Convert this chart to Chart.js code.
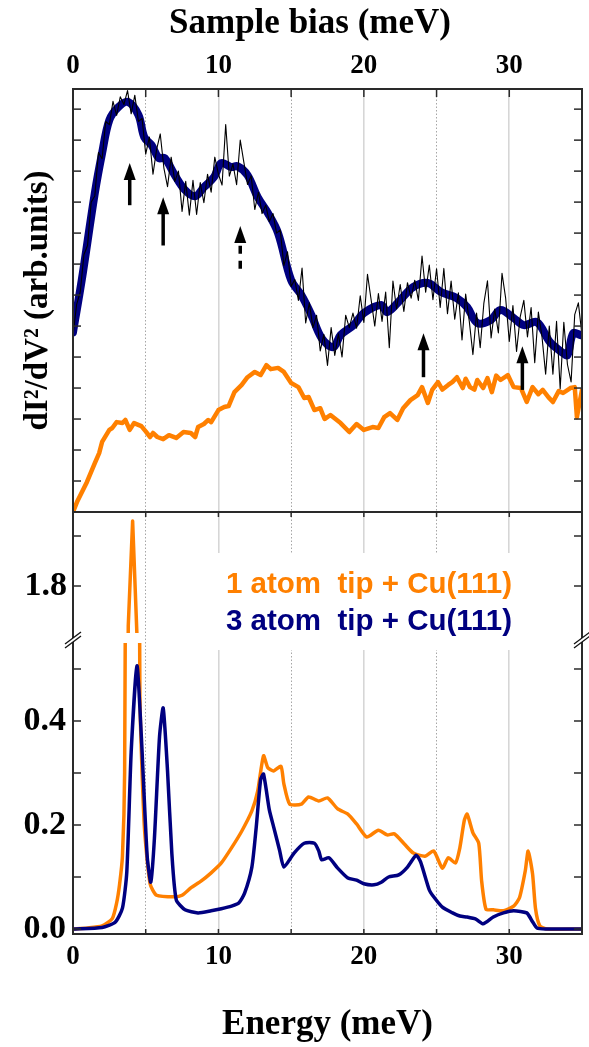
<!DOCTYPE html>
<html>
<head>
<meta charset="utf-8">
<script src="https://cdn.jsdelivr.net/npm/chart.js@4.4.1/dist/chart.umd.min.js"></script>
<style>
  html, body { margin:0; padding:0; background:#fff; }
  #wrap { width:589px; height:1047px; }
  canvas { display:block; }
</style>
</head>
<body>
<div id="wrap"><canvas id="c" width="589" height="1047" style="width:589px;height:1047px"></canvas></div>
<script>
// ================= DATOS ==================
// panel superior: d2I/dV2 (unidades arbitrarias) vs sample bias (meV)
const RAW_STEP = 0.25;   // meV entre muestras de la traza fina
const RAW_D2I = [
  5.7, 6.7, 7.1, 8.3, 8.6, 10.0, 10.2, 11.6, 11.4, 12.6,
  12.5, 13.25, 12.8, 13.4, 13.15, 13.6, 12.85, 13.45, 12.6, 12.7,
  11.55, 12.1, 10.9, 11.7, 12.2, 11.1, 10.5, 11.45, 10.67, 11.0,
  9.7, 10.67, 9.58, 10.7, 9.6, 10.63, 9.98, 10.9, 10.32, 11.45,
  10.9, 10.55, 12.5, 10.84, 11.23, 10.56, 12.0, 11.28, 10.57, 10.85,
  9.76, 10.32, 9.63, 9.9, 9.37, 9.63, 9.0, 9.1, 7.95, 8.4,
  7.28, 7.5, 6.83, 7.87, 6.1, 6.75, 5.95, 6.35, 5.2, 5.73,
  4.73, 5.95, 5.05, 5.75, 5.0, 6.35, 5.95, 6.42, 5.93, 6.98,
  6.12, 7.67, 6.85, 6.0, 7.05, 6.15, 7.1, 5.3, 7.45, 6.55,
  7.34, 6.47, 7.4, 6.9, 7.48, 6.83, 8.26, 7.09, 7.97, 6.85,
  7.85, 6.6, 7.86, 6.4, 7.45, 6.22, 7.07, 5.55, 7.03, 6.15,
  5.08, 6.42, 5.3, 6.73, 7.46, 5.62, 6.55, 5.78, 7.7, 6.9,
  5.5, 6.66, 5.18, 6.3, 6.83, 5.65, 6.6, 4.82, 6.45, 5.65,
  4.45, 6.0, 4.45, 6.15, 3.98, 6.12, 4.76, 4.2, 6.37, 6.75,
  5.7
];
const SMOOTH_E = [0, 0.6, 1.5, 2.0, 2.5, 3.1, 3.8, 4.5, 4.9, 5.4, 5.9, 6.3, 7.0, 7.7, 8.4, 9.0, 9.7, 10.2, 10.9, 11.3,
  12.0, 12.7, 13.4, 14.1, 15.0, 15.7, 16.4, 17.1, 17.9, 18.4, 19.3, 20.0, 21.2, 21.6, 22.5, 23.4, 24.4, 25.3, 26.4, 27.1,
  27.8, 28.7, 29.4, 30.3, 31.0, 31.9, 32.8, 33.7, 34.0, 34.4, 34.9];
const SMOOTH_D2I = [5.8, 7.48, 10.29, 11.58, 12.65, 13.06, 13.23, 12.81, 12.1, 11.84, 11.42, 11.42, 10.87, 10.39, 10.19, 10.48, 10.81, 11.26, 11.13, 11.16,
  10.87, 10.16, 9.65, 9.0, 7.48, 7.0, 6.35, 5.61, 5.32, 5.71, 6.03, 6.42, 6.68, 6.45, 6.84, 7.26, 7.39, 7.10, 6.90, 6.61,
  6.10, 6.19, 6.52, 6.26, 6.03, 6.13, 5.48, 5.13, 5.06, 5.77, 5.71];
const TIP1_E = [0, 0.3, 0.96, 1.5, 1.8, 2.0, 2.5, 2.7, 3.0, 3.4, 3.6, 3.9, 4.2, 4.7, 5.0, 5.3, 5.5, 5.8, 6.2, 6.6,
  7.1, 7.6, 8.1, 8.4, 8.6, 9.0, 9.3, 9.5, 10.0, 10.4, 10.7, 11.1, 11.6, 12.0, 12.5, 12.9, 13.3, 13.6, 14.1, 14.5,
  15.0, 15.5, 15.9, 16.2, 16.6, 17.0, 17.3, 17.7, 18.4, 19.0, 19.5, 20.0, 20.6, 21.0, 21.4, 21.8, 22.3, 22.7, 23.2, 23.7,
  24.0, 24.4, 24.7, 25.1, 25.4, 25.8, 26.1, 26.4, 26.8, 27.0, 27.3, 27.6, 27.8, 28.2, 28.5, 28.8, 29.1, 29.4, 29.9, 30.3,
  30.8, 31.2, 31.6, 32.0, 32.3, 32.7, 33.0, 33.4, 33.7, 34.2, 34.5, 34.65, 34.8, 35.0];
const TIP1_D2I = [0, 0.35, 0.97, 1.58, 1.9, 2.26, 2.65, 2.71, 2.9, 2.87, 2.97, 2.65, 2.87, 2.77, 2.6, 2.42, 2.55, 2.42, 2.35, 2.48,
  2.39, 2.58, 2.55, 2.42, 2.74, 2.84, 2.97, 2.9, 3.29, 3.39, 3.42, 3.87, 4.1, 4.35, 4.52, 4.42, 4.74, 4.61, 4.65, 4.52,
  4.16, 4.03, 3.68, 3.71, 3.29, 3.35, 3.0, 3.13, 2.87, 2.58, 2.84, 2.65, 2.74, 2.71, 3.06, 3.19, 2.97, 3.35, 3.61, 3.77,
  4.03, 3.52, 3.94, 4.19, 3.95, 4.1, 4.2, 4.35, 4.0, 4.3, 4.03, 3.95, 4.26, 4.0, 4.32, 3.87, 4.4, 4.26, 4.42, 4.03,
  4.0, 3.55, 4.03, 3.8, 3.94, 3.7, 3.55, 3.9, 3.84, 4.0, 4.03, 3.06, 3.45, 3.94];

// flechas (posición en meV, desde/hasta en unidades del eje d2I/dV2)
const ARROW_E      = [3.9, 6.2, 11.5, 24.1, 30.9];
const ARROW_FROM   = [9.9, 8.6, 7.85, 4.35, 3.94];
const ARROW_TO     = [11.26, 10.16, 9.23, 5.77, 5.35];
const ARROW_DASHED = [false, false, true, false, false];

// panel inferior: energía (meV)
const DOS1_E = [0, 1.0, 2.0, 2.7, 3.0, 3.2, 3.4, 3.55, 3.8, 4.1, 4.4, 4.6, 4.9, 5.3, 5.75, 7.0, 7.5, 8.1, 8.8, 9.5,
  10.2, 10.9, 11.6, 12.3, 12.7, 13.1, 13.4, 13.8, 14.3, 14.5, 14.9, 15.7, 16.2, 16.9, 17.5, 18.2, 18.9, 19.5, 20.2, 21.0,
  21.6, 22.1, 22.8, 23.4, 24.2, 24.8, 25.4, 25.8, 26.3, 26.6, 26.9, 27.1, 27.5, 27.9, 28.1, 28.4, 28.9, 29.6, 30.3, 30.7,
  31.1, 31.3, 31.6, 31.8, 32.1, 32.6, 35.0];
const DOS1 = [0, 0.002, 0.006, 0.02, 0.05, 0.085, 0.14, 0.3, 1.72, 1.93, 1.7, 0.45, 0.2, 0.087, 0.065, 0.062, 0.065, 0.079, 0.092, 0.108,
  0.127, 0.156, 0.188, 0.227, 0.265, 0.333, 0.31, 0.304, 0.313, 0.279, 0.24, 0.24, 0.254, 0.246, 0.252, 0.231, 0.221, 0.202, 0.177, 0.19,
  0.181, 0.183, 0.163, 0.146, 0.14, 0.15, 0.117, 0.137, 0.127, 0.156, 0.208, 0.221, 0.185, 0.165, 0.092, 0.038, 0.037, 0.035, 0.044, 0.06,
  0.112, 0.15, 0.106, 0.04, 0.006, 0, 0];
const DOS3_E = [0, 2.0, 2.9, 3.4, 3.7, 4.0, 4.4, 4.7, 5.1, 5.35, 5.6, 5.95, 6.2, 6.5, 6.8, 7.1, 7.7, 8.6, 9.5, 10.2,
  10.9, 11.4, 11.8, 12.3, 12.6, 12.9, 13.1, 13.5, 13.8, 14.2, 14.5, 15.2, 15.9, 16.6, 16.9, 17.1, 17.6, 18.2, 18.9, 19.5,
  20.0, 20.7, 21.2, 21.7, 22.4, 23.0, 23.6, 23.9, 24.5, 24.8, 25.4, 26.1, 26.6, 27.1, 27.7, 28.2, 28.9, 29.6, 30.3, 31.2,
  31.6, 31.9, 32.5, 35.0];
const DOS3 = [0, 0.003, 0.013, 0.04, 0.11, 0.34, 0.506, 0.37, 0.14, 0.09, 0.175, 0.37, 0.425, 0.304, 0.144, 0.056, 0.037, 0.031, 0.035, 0.039,
  0.044, 0.05, 0.069, 0.119, 0.196, 0.287, 0.298, 0.229, 0.196, 0.152, 0.119, 0.146, 0.165, 0.165, 0.15, 0.133, 0.137, 0.117, 0.098, 0.094,
  0.087, 0.085, 0.09, 0.1, 0.104, 0.119, 0.142, 0.129, 0.075, 0.062, 0.042, 0.031, 0.025, 0.023, 0.019, 0.01, 0.023, 0.031, 0.035, 0.031,
  0.014, 0.002, 0, 0];

// ticks
const D2I_TICKS   = [1, 2, 3, 4, 5, 6, 7, 8, 9, 10, 11, 12, 13];
const BREAK_TICKS = [1.8, 1.9];
const BREAK_LABELS = [1.8];
const DOS_TICKS   = [0, 0.1, 0.2, 0.3, 0.4, 0.5];
const DOS_LABELS  = [0, 0.2, 0.4];
const LEGEND_TEXT = ['1 atom  tip + Cu(111)', '3 atom  tip + Cu(111)'];

// ================= ESTILO ==================
const ORANGE = '#ff8000';
const NAVY = '#000080';
const SERIF = '"Liberation Serif", "Times New Roman", serif';
const SANS = '"Liberation Sans", Arial, sans-serif';
const FRAME = '#2a2a2a';

// =============== UTIL ===============
const pts = (xs, ys) => xs.map((x, i) => ({ x, y: ys[i] }));
const near = (v, list) => list.some(t => Math.abs(t - v) < 1e-6);
function seg(ctx, x0, y0, x1, y1){
  ctx.beginPath(); ctx.moveTo(x0, y0); ctx.lineTo(x1, y1); ctx.stroke();
}

// ============= PLUGIN: marco, ticks, cortes, flechas, leyenda =============
const panelDecor = {
  id: 'panelDecor',
  beforeDatasetsDraw(chart){
    // caja blanca detrás de la leyenda (tapa la rejilla)
    const ctx = chart.ctx;
    ctx.save();
    ctx.fillStyle = '#fff';
    ctx.fillRect(214, 553, 306, 97);
    ctx.restore();
  },
  beforeDatasetDraw(chart, args){
    // cada serie se recorta a su tramo de eje y (con hueco en el corte)
    const ds = chart.data.datasets[args.index];
    const ys = chart.scales[ds.yAxisID];
    const a = chart.chartArea;
    const cut = ds.breakCut || [0, 0];
    const ctx = chart.ctx;
    ctx.save();
    ctx.beginPath();
    ctx.rect(a.left - 5, ys.top + cut[0], a.right - a.left + 10, ys.bottom - ys.top - cut[0] - cut[1]);
    ctx.clip();
  },
  afterDatasetDraw(chart){
    chart.ctx.restore();
  },
  afterDatasetsDraw(chart){
    const { ctx, chartArea: a, scales } = chart;
    const xs = scales.x, yt = scales.yTop, ym = scales.yMid, yl = scales.yLow;
    ctx.save();

    // flechas
    ARROW_E.forEach((e, i) => {
      const x = xs.getPixelForValue(e);
      const y0 = yt.getPixelForValue(ARROW_FROM[i]);
      const y1 = yt.getPixelForValue(ARROW_TO[i]);
      const head = 17;
      ctx.strokeStyle = '#000'; ctx.lineWidth = 3.5; ctx.lineCap = 'butt';
      ctx.setLineDash(ARROW_DASHED[i] ? [8, 7] : []);
      seg(ctx, x, y0, x, y1 + head - 1);
      ctx.setLineDash([]);
      ctx.fillStyle = '#000';
      ctx.beginPath();
      ctx.moveTo(x, y1); ctx.lineTo(x - 6, y1 + head); ctx.lineTo(x + 6, y1 + head);
      ctx.closePath(); ctx.fill();
    });

    // marco
    ctx.strokeStyle = FRAME; ctx.lineWidth = 2; ctx.setLineDash([]);
    ctx.strokeRect(a.left, a.top, a.right - a.left, a.bottom - a.top);
    seg(ctx, a.left, yt.bottom, a.right, yt.bottom);

    // ticks hacia dentro
    ctx.lineWidth = 1.5;
    const yTicks = [[yt, D2I_TICKS], [ym, BREAK_TICKS], [yl, DOS_TICKS]];
    yTicks.forEach(([sc, vals]) => vals.forEach(v => {
      const y = sc.getPixelForValue(v);
      seg(ctx, a.left, y, a.left + 8, y);
      seg(ctx, a.right, y, a.right - 8, y);
    }));
    for (let v = 5; v < 35; v += 5){
      const x = xs.getPixelForValue(v);
      seg(ctx, x, a.top, x, a.top + 8);
      seg(ctx, x, yt.bottom, x, yt.bottom + 5);
      seg(ctx, x, a.bottom, x, a.bottom - 5);
    }

    // marcas de corte //
    const yb = ym.bottom;
    [a.left, a.right].forEach(xb => {
      ctx.fillStyle = '#fff';
      ctx.beginPath();
      ctx.moveTo(xb - 8, yb + 6); ctx.lineTo(xb + 8, yb - 6);
      ctx.lineTo(xb + 8, yb - 2); ctx.lineTo(xb - 8, yb + 10);
      ctx.closePath(); ctx.fill();
      ctx.strokeStyle = '#111'; ctx.lineWidth = 1.3;
      seg(ctx, xb - 8, yb + 6, xb + 8, yb - 6);
      seg(ctx, xb - 8, yb + 10, xb + 8, yb - 2);
    });

    // leyenda
    ctx.font = 'bold 29.5px ' + SANS;
    ctx.textAlign = 'left'; ctx.textBaseline = 'alphabetic';
    ctx.fillStyle = ORANGE; ctx.fillText(LEGEND_TEXT[0], 226, 593);
    ctx.fillStyle = NAVY;   ctx.fillText(LEGEND_TEXT[1], 226, 630);

    // título superior
    ctx.font = 'bold 35px ' + SERIF;
    ctx.textAlign = 'center';
    ctx.fillStyle = '#000';
    ctx.fillText('Sample bias (meV)', 310, 33);
    ctx.restore();
  }
};

// ============== GRÁFICO ==============
const tickFont = { family: SERIF, size: 27, weight: 'bold' };
const yTickFont = { family: SERIF, size: 34, weight: 'bold' };
const xLabel = (v) => (v % 10 === 0 ? String(v) : '');

new Chart(document.getElementById('c').getContext('2d'), {
  type: 'line',
  data: {
    datasets: [
      { label: 'raw', data: RAW_D2I.map((v, i) => ({ x: i * RAW_STEP, y: v })), yAxisID: 'yTop',
        borderColor: '#000', borderWidth: 1.1, tension: 0 },
      { label: 'smooth', data: pts(SMOOTH_E, SMOOTH_D2I), yAxisID: 'yTop',
        borderColor: NAVY, borderWidth: 8, tension: 0.35 },
      { label: '1 atom (STS)', data: pts(TIP1_E, TIP1_D2I), yAxisID: 'yTop',
        borderColor: ORANGE, borderWidth: 4.5, tension: 0 },
      { label: LEGEND_TEXT[1], data: pts(DOS3_E, DOS3), yAxisID: 'yLow',
        borderColor: NAVY, borderWidth: 3.5, tension: 0.2, breakCut: [5, 0] },
      { label: LEGEND_TEXT[0] + ' (alto)', data: pts(DOS1_E, DOS1), yAxisID: 'yMid',
        borderColor: ORANGE, borderWidth: 3.5, tension: 0, breakCut: [0, 5] },
      { label: LEGEND_TEXT[0], data: pts(DOS1_E, DOS1), yAxisID: 'yLow',
        borderColor: ORANGE, borderWidth: 3.5, tension: 0.2, breakCut: [5, 0] }
    ]
  },
  options: {
    responsive: false, animation: false,
    layout: { padding: { left: 0, right: 7, top: 0, bottom: 0 } },
    elements: { point: { radius: 0 }, line: { borderJoinStyle: 'round', borderCapStyle: 'round' } },
    plugins: { legend: { display: false }, tooltip: { enabled: false } },
    scales: {
      x: {
        type: 'linear', position: 'bottom', min: 0, max: 35,
        ticks: { stepSize: 5, autoSkip: false, maxRotation: 0, callback: xLabel, font: tickFont, color: '#000', padding: 7 },
        grid: {
          drawTicks: false,
          color: (c) => (c.tick && c.tick.value % 10 !== 0) ? 'rgba(0,0,0,0.35)' : 'rgba(0,0,0,0.16)',
          lineWidth: (c) => (c.tick && c.tick.value % 10 !== 0) ? 1 : 1.6
        },
        border: { display: false, dash: (c) => (c.tick && c.tick.value % 10 !== 0) ? [1.5, 2] : [] },
        title: { display: true, text: 'Energy (meV)', color: '#000',
          font: { family: SERIF, size: 35, weight: 'bold' }, padding: { top: 0, bottom: 1 } },
        afterFit: (s) => { s.height = 113; }
      },
      xTop: {
        type: 'linear', position: 'top', min: 0, max: 35,
        ticks: { stepSize: 5, autoSkip: false, maxRotation: 0, callback: xLabel, font: tickFont, color: '#000', padding: 7 },
        grid: { display: false, drawTicks: false },
        border: { display: false },
        afterFit: (s) => { s.height = 89; }
      },
      yLow: {
        type: 'linear', position: 'left', stack: 'left', stackWeight: 296,
        min: -0.0096, max: 0.5596,
        afterBuildTicks: (s) => { s.ticks = DOS_TICKS.map(v => ({ value: v })); },
        ticks: { callback: (v) => near(v, DOS_LABELS) ? v.toFixed(1) : '', font: yTickFont, color: '#000', padding: 7 },
        grid: { display: false, drawTicks: false },
        border: { display: false },
        afterFit: (s) => { s.width = 73; }
      },
      yMid: {
        type: 'linear', position: 'left', stack: 'left', stackWeight: 126,
        min: 1.696, max: 1.948,
        afterBuildTicks: (s) => { s.ticks = BREAK_TICKS.map(v => ({ value: v })); },
        ticks: { callback: (v) => near(v, BREAK_LABELS) ? v.toFixed(1) : '', font: yTickFont, color: '#000', padding: 6 },
        grid: { display: false, drawTicks: false },
        border: { display: false },
        afterFit: (s) => { s.width = 73; }
      },
      yTop: {
        type: 'linear', position: 'left', stack: 'left', stackWeight: 423,
        min: 0, max: 13.65,
        ticks: { display: false },
        grid: { display: false, drawTicks: false },
        border: { display: false },
        title: { display: true, text: 'dI²/dV² (arb.units)', color: '#000',
          font: { family: SERIF, size: 33, weight: 'bold' }, padding: { top: 19, bottom: 0 } },
        afterFit: (s) => { s.width = 73; }
      }
    }
  },
  plugins: [panelDecor]
});
</script>
</body>
</html>
